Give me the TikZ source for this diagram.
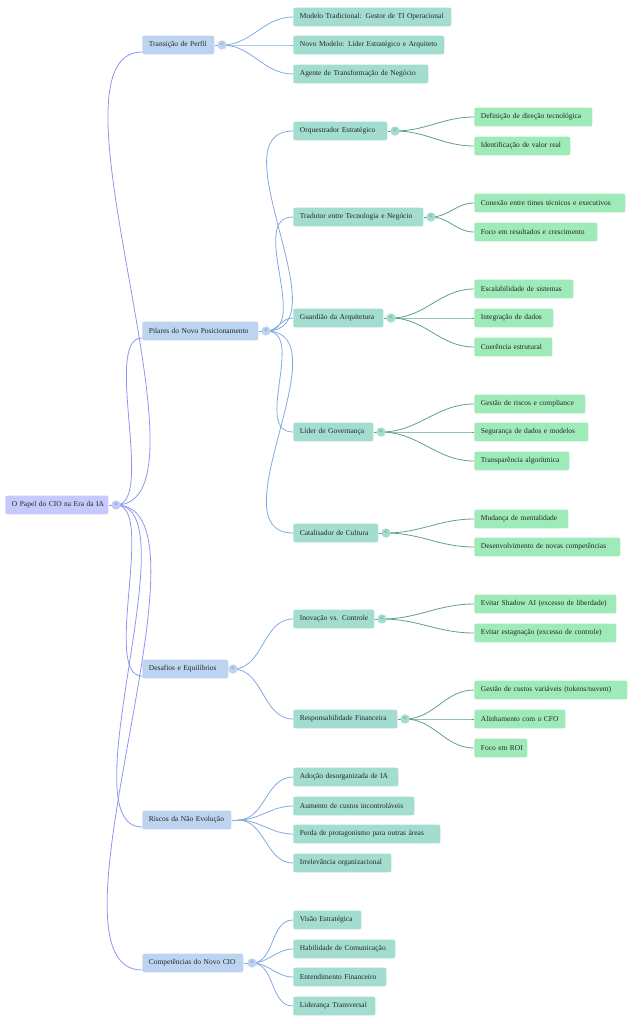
\documentclass[tikz,border=0pt]{standalone}
\usepackage{fontspec}
\setmainfont{Liberation Serif}
\definecolor{c0}{RGB}{197,201,251}
\definecolor{c1}{RGB}{188,212,240}
\definecolor{c2}{RGB}{162,221,208}
\definecolor{c3}{RGB}{158,234,184}
\definecolor{k1}{RGB}{140,150,240}
\definecolor{k2}{RGB}{130,170,225}
\definecolor{k3}{RGB}{95,160,135}
\begin{document}
\begin{tikzpicture}[x=0.75pt,y=-0.75pt,
 box/.style={anchor=west,rounded corners=1.5pt,minimum height=14pt,inner xsep=5pt,inner ysep=0pt,font=\fontsize{5.6}{7}\selectfont,align=left,text=black!85},
 l1/.style={box,fill=c1},
 l2/.style={box,fill=c2},
 l3/.style={box,fill=c3},
 tg/.style={circle,inner sep=0pt,minimum size=7pt,font=\fontsize{5}{5}\selectfont,text=black!60},
 e1/.style={draw=k1,line width=0.6pt},
 e2/.style={draw=k2,line width=0.6pt},
 e3/.style={draw=k3,line width=0.6pt}]
\useasboundingbox (0,0) rectangle (642,1024);
\newcommand{\nd}[6]{\node[#5,text width={(#4-#2)*0.75pt-10pt}] (#1) at (#2,#3) {\mbox{#6}};}
\newcommand{\tgl}[4]{\node[tg,fill=#4] (#1) at (#2,#3) {<};}
% edges first (background)
\coordinate (troot) at (116,505);
\foreach \n/\x/\y in {ta/222/45,tb/266/331,tc/233/669,td/238/820,te/252/963,tb1/395/131,tb2/431/217,tb3/391/318,tb4/381/432,tb5/386/533,tc1/382/619,tc2/405/719}{\coordinate (\n) at (\x,\y);}
\foreach \c/\y in {a/45,b/331,c/669,d/820,e/963}{\draw[e1] (troot) to[out=0,in=180,looseness=0.6] (142,\y+7);}
\foreach \p/\cs in {ta/{17,45,74},tb/{131,217,318,432,533},tc/{619,719},td/{777,806,834,863},te/{920,949,977,1006}}{
 \foreach \y in \cs {\draw[e2] (\p) to[out=0,in=180] (293,\y);}}
\foreach \p/\cs in {tb1/{117,146},tb2/{203,232},tb3/{289,318,347},tb4/{404,432,461},tb5/{519,547},tc1/{604,633},tc2/{690,719,748}}{
 \foreach \y in \cs {\draw[e3] (\p) to[out=0,in=180] (474,\y);}}
% root
\nd{root}{5}{505}{108}{box,fill=c0}{O Papel do CIO na Era da IA}
\draw[e1] (root.east) -- (troot);
\tgl{troot}{116}{505}{c0}
% level 1
\nd{a}{142}{45}{214}{l1}{Transição de Perfil}
\nd{b}{142}{331}{258}{l1}{Pilares do Novo Posicionamento}
\nd{c}{142}{669}{228}{l1}{Desafios e Equilíbrios}
\nd{d}{142}{820}{231}{l1}{Riscos da Não Evolução}
\nd{e}{142}{963}{243}{l1}{Competências do Novo CIO}
\foreach \c in {a,b,c,d,e}{\draw[e2] (\c.east) -- (t\c);}
\tgl{ta}{222}{45}{c1}
\tgl{tb}{266}{331}{c1}
\tgl{tc}{233}{669}{c1}
\tgl{te}{252}{963}{c1}
% level 2
\nd{a1}{293}{17}{451}{l2}{Modelo Tradicional: Gestor de TI Operacional}
\nd{a2}{293}{45}{444}{l2}{Novo Modelo: Líder Estratégico e Arquiteto}
\nd{a3}{293}{74}{428}{l2}{Agente de Transformação de Negócio}
\nd{b1}{293}{131}{387}{l2}{Orquestrador Estratégico}
\nd{b2}{293}{217}{423}{l2}{Tradutor entre Tecnologia e Negócio}
\nd{b3}{293}{318}{383}{l2}{Guardião da Arquitetura}
\nd{b4}{293}{432}{373}{l2}{Líder de Governança}
\nd{b5}{293}{533}{378}{l2}{Catalisador de Cultura}
\nd{c1}{293}{619}{374}{l2}{Inovação vs. Controle}
\nd{c2}{293}{719}{397}{l2}{Responsabilidade Financeira}
\nd{d1}{293}{777}{398}{l2}{Adoção desorganizada de IA}
\nd{d2}{293}{806}{414}{l2}{Aumento de custos incontroláveis}
\nd{d3}{293}{834}{440}{l2}{Perda de protagonismo para outras áreas}
\nd{d4}{293}{863}{391}{l2}{Irrelevância organizacional}
\nd{e1}{293}{920}{361}{l2}{Visão Estratégica}
\nd{e2}{293}{949}{395}{l2}{Habilidade de Comunicação}
\nd{e3}{293}{977}{386}{l2}{Entendimento Financeiro}
\nd{e4}{293}{1006}{375}{l2}{Liderança Transversal}
\foreach \c in {b1,b2,b3,b4,b5,c1,c2}{\draw[e3] (\c.east) -- (t\c);}
\tgl{tb1}{395}{131}{c2}
\tgl{tb2}{431}{217}{c2}
\tgl{tb3}{391}{318}{c2}
\tgl{tb4}{381}{432}{c2}
\tgl{tb5}{386}{533}{c2}
\tgl{tc1}{382}{619}{c2}
\tgl{tc2}{405}{719}{c2}
% level 3
\nd{b11}{474}{117}{592}{l3}{Definição de direção tecnológica}
\nd{b12}{474}{146}{570}{l3}{Identificação de valor real}
\nd{b21}{474}{203}{625}{l3}{Conexão entre times técnicos e executivos}
\nd{b22}{474}{232}{597}{l3}{Foco em resultados e crescimento}
\nd{b31}{474}{289}{573}{l3}{Escalabilidade de sistemas}
\nd{b32}{474}{318}{553}{l3}{Integração de dados}
\nd{b33}{474}{347}{552}{l3}{Coerência estrutural}
\nd{b41}{474}{404}{585}{l3}{Gestão de riscos e compliance}
\nd{b42}{474}{432}{588}{l3}{Segurança de dados e modelos}
\nd{b43}{474}{461}{569}{l3}{Transparência algorítmica}
\nd{b51}{474}{519}{568}{l3}{Mudança de mentalidade}
\nd{b52}{474}{547}{620}{l3}{Desenvolvimento de novas competências}
\nd{c11}{474}{604}{616}{l3}{Evitar Shadow AI (excesso de liberdade)}
\nd{c12}{474}{633}{616}{l3}{Evitar estagnação (excesso de controle)}
\nd{c21}{474}{690}{627}{l3}{Gestão de custos variáveis (tokens/nuvem)}
\nd{c22}{474}{719}{565}{l3}{Alinhamento com o CFO}
\nd{c23}{474}{748}{527}{l3}{Foco em ROI}
\end{tikzpicture}
\end{document}
